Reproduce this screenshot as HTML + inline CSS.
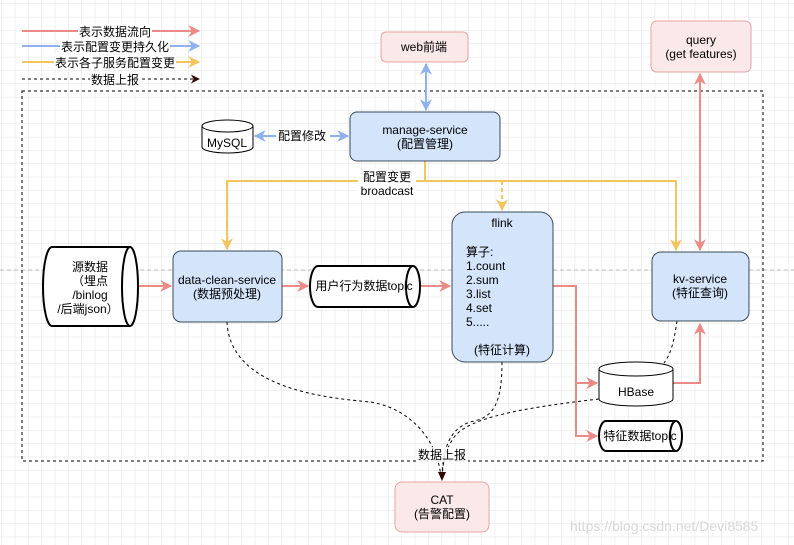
<!DOCTYPE html>
<html><head><meta charset="utf-8"><style>
html,body{margin:0;padding:0;background:#fff;}
svg{display:block;font-family:"Liberation Sans","Noto Sans CJK SC",sans-serif;}
</style></head><body>
<svg width="794" height="545" viewBox="0 0 794 545" xmlns="http://www.w3.org/2000/svg">
<defs>
<pattern id="g" width="13.33" height="13.33" patternUnits="userSpaceOnUse" x="2" y="4">
<path d="M13.33 0V13.33M0 13.33H13.33" stroke="#e2e2e2" stroke-width="1" fill="none"/>
</pattern>
<marker id="ar" viewBox="0 0 10 10" refX="9" refY="5" markerWidth="6" markerHeight="6" orient="auto-start-reverse"><path d="M0,0L10,5L0,10L3,5z" fill="#ea8b88"/></marker>
<marker id="ab" viewBox="0 0 10 10" refX="9" refY="5" markerWidth="6" markerHeight="6" orient="auto-start-reverse"><path d="M0,0L10,5L0,10L3,5z" fill="#8fb2ee"/></marker>
<marker id="ay" viewBox="0 0 10 10" refX="9" refY="5" markerWidth="6" markerHeight="6" orient="auto-start-reverse"><path d="M0,0L10,5L0,10L3,5z" fill="#f3c55f"/></marker>
<marker id="ak" viewBox="0 0 10 10" refX="9" refY="5" markerWidth="9" markerHeight="9" orient="auto"><path d="M0,0L10,5L0,10L3,5z" fill="#330000"/></marker>
</defs>
<rect width="794" height="545" fill="url(#g)"/>
<line x1="0" y1="270" x2="794" y2="270" stroke="#bbb" stroke-dasharray="4 3"/>

<g stroke-width="2" fill="none">
<line x1="22" y1="31" x2="199" y2="31" stroke="#ea8b88" marker-end="url(#ar)"/>
<line x1="22" y1="46" x2="199" y2="46" stroke="#8fb2ee" marker-end="url(#ab)"/>
<line x1="22" y1="62" x2="199" y2="62" stroke="#f3c55f" marker-end="url(#ay)"/>
<line x1="22" y1="79" x2="199" y2="79" stroke="#000" stroke-width="1" stroke-dasharray="3 3" marker-end="url(#ak)"/>
</g>
<g font-size="12" text-anchor="middle" fill="#000">
<rect x="78" y="24" width="74" height="14" fill="#fff"/><text x="115" y="36">表示数据流向</text>
<rect x="60" y="39" width="110" height="14" fill="#fff"/><text x="115" y="51">表示配置变更持久化</text>
<rect x="54" y="55" width="122" height="14" fill="#fff"/><text x="115" y="67">表示各子服务配置变更</text>
<rect x="90" y="72" width="50" height="14" fill="#fff"/><text x="115" y="84">数据上报</text>
</g>

<rect x="22" y="91" width="741" height="370" fill="none" stroke="#000" stroke-dasharray="3 3"/>

<g fill="none" stroke-width="2">
<line x1="426" y1="64" x2="426" y2="110" stroke="#8fb2ee" marker-start="url(#ab)" marker-end="url(#ab)"/>
<line x1="255" y1="136" x2="348" y2="136" stroke="#8fb2ee" marker-start="url(#ab)" marker-end="url(#ab)"/>
<polyline points="425,161 425,181 227,181 227,249" stroke="#f3c55f" marker-end="url(#ay)"/>
<polyline points="425,181 676,181 676,250" stroke="#f3c55f" marker-end="url(#ay)"/>
<line x1="502" y1="181" x2="502" y2="210" stroke="#f3c55f" stroke-dasharray="4 3" marker-end="url(#ay)"/>
<line x1="700" y1="74" x2="700" y2="250" stroke="#ea8b88" marker-start="url(#ar)" marker-end="url(#ar)"/>
<line x1="138" y1="286" x2="171" y2="286" stroke="#ea8b88" marker-end="url(#ar)"/>
<line x1="282" y1="286" x2="308" y2="286" stroke="#ea8b88" marker-end="url(#ar)"/>
<line x1="420" y1="286" x2="450" y2="286" stroke="#ea8b88" marker-end="url(#ar)"/>
<polyline points="553,286 576,286 576,383 597,383" stroke="#ea8b88" marker-end="url(#ar)"/>
<polyline points="576,383 576,436 597,436" stroke="#ea8b88" marker-end="url(#ar)"/>
<polyline points="673,383 700,383 700,324" stroke="#ea8b88" marker-end="url(#ar)"/>
</g>
<g fill="none" stroke="#000" stroke-width="1" stroke-dasharray="3 3">
<path d="M227,322 C230,390 330,398 370,402 C410,408 438,440 441,478"/>
<path d="M502,362 C502,410 490,418 470,422 C448,430 443,450 442,478"/>
<path d="M599,399 C520,408 470,418 455,436 C446,448 443,460 442,478"/>
<path d="M677,321 C674,340 672,352 664,363"/>
</g>
<polygon points="438,472 446,472 442,481" fill="#330000"/>

<rect x="276" y="128" width="54" height="15" fill="#fff"/>
<text x="302" y="140" font-size="12" text-anchor="middle">配置修改</text>
<rect x="358" y="170" width="58" height="29" fill="#fff"/>
<text x="387" y="181" font-size="12" text-anchor="middle">配置变更</text>
<text x="387" y="195" font-size="12" text-anchor="middle">broadcast</text>
<rect x="416" y="447" width="52" height="15" fill="#fff" fill-opacity="0.85"/>
<text x="442" y="459" font-size="12" text-anchor="middle">数据上报</text>

<rect x="381" y="32" width="87" height="30" rx="5" fill="#fbe9e9" stroke="#e6a3a3"/>
<text x="424" y="51" font-size="12" text-anchor="middle">web前端</text>
<rect x="651" y="21" width="100" height="51" rx="6" fill="#fbe9e9" stroke="#e6a3a3"/>
<text x="701" y="44" font-size="12" text-anchor="middle">query</text>
<text x="701" y="58" font-size="12" text-anchor="middle">(get features)</text>
<rect x="350" y="112" width="150" height="49" rx="7" fill="#d3e4fb" stroke="#3a4a5a"/>
<text x="425" y="134" font-size="12" text-anchor="middle">manage-service</text>
<text x="425" y="148" font-size="12" text-anchor="middle">(配置管理)</text>
<rect x="173" y="251" width="109" height="71" rx="8" fill="#d3e4fb" stroke="#3a4a5a"/>
<text x="227" y="284" font-size="12" text-anchor="middle">data-clean-service</text>
<text x="227" y="298" font-size="12" text-anchor="middle">(数据预处理)</text>
<rect x="452" y="212" width="101" height="150" rx="13" fill="#d3e4fb" stroke="#3a4a5a"/>
<g font-size="12">
<text x="502" y="227" text-anchor="middle">flink</text>
<text x="466" y="256">算子:</text>
<text x="466" y="270">1.count</text>
<text x="466" y="284">2.sum</text>
<text x="466" y="298">3.list</text>
<text x="466" y="312">4.set</text>
<text x="466" y="326">5.....</text>
<text x="502" y="354" text-anchor="middle">(特征计算)</text>
</g>
<rect x="652" y="252" width="97" height="69" rx="9" fill="#d3e4fb" stroke="#3a4a5a"/>
<text x="700" y="283" font-size="12" text-anchor="middle">kv-service</text>
<text x="700" y="297" font-size="12" text-anchor="middle">(特征查询)</text>
<rect x="395" y="482" width="94" height="50" rx="7" fill="#fbe9e9" stroke="#e6a3a3"/>
<text x="442" y="504" font-size="12" text-anchor="middle">CAT</text>
<text x="442" y="518" font-size="12" text-anchor="middle">(告警配置)</text>

<path d="M202,126 A25.5,6 0 0 1 253,126 V147 A25.5,6 0 0 1 202,147 Z" fill="#fff" stroke="#000"/>
<path d="M202,126 A25.5,6 0 0 0 253,126" fill="none" stroke="#000"/>
<text x="227" y="147" font-size="12" text-anchor="middle">MySQL</text>

<path d="M599,369 A37,7 0 0 1 673,369 V399 A37,7 0 0 1 599,399 Z" fill="#fff" stroke="#000"/>
<path d="M599,369 A37,7 0 0 0 673,369" fill="none" stroke="#000"/>
<text x="636" y="396" font-size="12" text-anchor="middle">HBase</text>

<path d="M130,247 H52 A9,39.5 0 0 0 52,326 H130" fill="#fff" stroke="#000" stroke-width="2"/>
<ellipse cx="130" cy="286.5" rx="8" ry="39.5" fill="#fff" stroke="#000" stroke-width="2"/>
<g font-size="12" text-anchor="middle">
<text x="90" y="271">源数据</text>
<text x="90" y="285">（埋点</text>
<text x="90" y="299">/binlog</text>
<text x="88" y="313">/后端json）</text>
</g>

<path d="M413,266 H318 A8,20.5 0 0 0 318,307 H413" fill="#fff" stroke="#000" stroke-width="2"/>
<ellipse cx="413" cy="286.5" rx="7" ry="20.5" fill="#fff" stroke="#000" stroke-width="2"/>
<text x="364" y="290" font-size="12" text-anchor="middle">用户行为数据topic</text>
<path d="M676,421 H606 A7,15 0 0 0 606,451 H676" fill="#fff" stroke="#000" stroke-width="2"/>
<ellipse cx="676" cy="436" rx="6" ry="15" fill="#fff" stroke="#000" stroke-width="2"/>
<text x="640" y="440" font-size="12" text-anchor="middle">特征数据topic</text>

<text x="570" y="531" font-size="14" fill="#d8d8d8">https://blog.csdn.net/Devi8585</text>
</svg>
</body></html>
